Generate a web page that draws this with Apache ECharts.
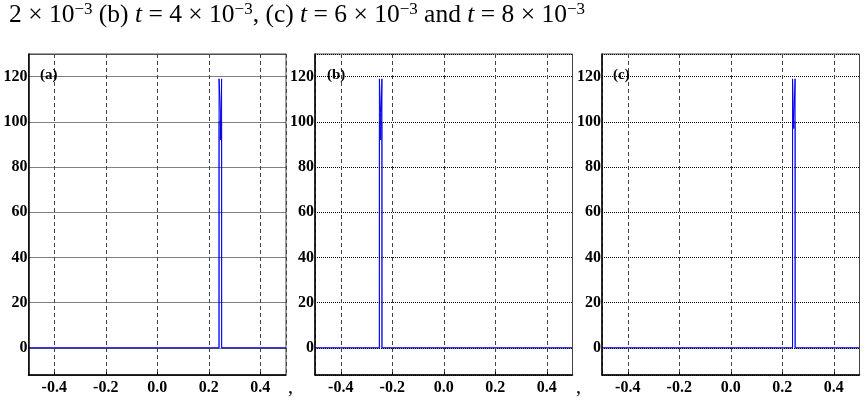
<!DOCTYPE html>
<html>
<head>
<meta charset="utf-8">
<script src="https://cdn.jsdelivr.net/npm/echarts@6/dist/echarts.min.js"></script>
<style>
  html, body { margin: 0; padding: 0; background: #fff; }
  #chart { width: 867px; height: 405px; }
</style>
</head>
<body>
<div id="chart"></div>
<script>
// panel labels
const panelNames = ['(a)', '(b)', '(c)']
const xTicks = [-0.4, -0.2, 0.0, 0.2, 0.4]
const yTicks = [0, 20, 40, 60, 80, 100, 120]

// exact pulse (height 100) per panel
const exactX = [
  [-0.5, 0.24, 0.24, 0.25, 0.25, 0.5],
  [-0.5, -0.25, -0.25, -0.24, -0.24, 0.5],
  [-0.5, 0.24, 0.24, 0.25, 0.25, 0.5]
]
const exactY = [0, 0, 100, 100, 0, 0]

// numerical solution with overshoot per panel
const numX = [
  [-0.5, 0.2399, 0.2401, 0.2448, 0.2452, 0.2499, 0.2501, 0.5],
  [-0.5, -0.2501, -0.2499, -0.2452, -0.2448, -0.2401, -0.2399, 0.5],
  [-0.5, 0.2399, 0.2401, 0.2448, 0.2452, 0.2499, 0.2501, 0.5]
]
const numY = [
  [0, 0, 119, 104, 92, 119, 0, 0],
  [0, 0, 119, 104, 92, 119, 0, 0],
  [0, 0, 119, 97, 101, 119, 0, 0]
]

const gridLefts = [28.5, 315, 602]
const gridWidth = 257.5

let chart = echarts.init(document.getElementById('chart'), null, {renderer: 'canvas'})

let grids = []
let xAxes = []
let yAxes = []
let series = []
let graphics = []

const font = 'Liberation Serif'

gridLefts.forEach((left, i) => {
  grids.push({
    left: left, width: gridWidth, top: 54, bottom: 30,
    show: true, borderColor: '#444', borderWidth: 1
  })
  xAxes.push({
    type: 'value', gridIndex: i, min: -0.5, max: 0.5, splitNumber: 5,
    axisLine: {onZero: false, lineStyle: {color: '#000', width: 1.5}},
    axisTick: {inside: true, length: 3, lineStyle: {color: '#000'}},
    axisLabel: {
      color: '#000', fontFamily: font, fontWeight: 'bold', fontSize: 16, margin: 5,
      showMinLabel: false, showMaxLabel: false,
      formatter: v => xTicks.some(t => Math.abs(t - v) < 1e-6) ? v.toFixed(1) : ''
    },
    splitLine: {show: true, lineStyle: {color: '#444', type: [4, 3], width: 1}}
  })
  yAxes.push({
    type: 'value', gridIndex: i, min: -12, max: 130, splitNumber: 7,
    axisLine: {show: true, onZero: false, lineStyle: {color: '#000', width: 1.5}},
    axisTick: {show: false},
    axisLabel: {
      color: '#000', fontFamily: font, fontWeight: 'bold', fontSize: 16, margin: 1,
      showMinLabel: false, showMaxLabel: false,
      formatter: v => yTicks.some(t => Math.abs(t - v) < 1e-6) ? String(Math.round(v)) : ''
    },
    splitLine: {show: true, lineStyle: {color: '#000', type: [1, 1], width: 1}}
  })
  series.push({
    type: 'line', xAxisIndex: i, yAxisIndex: i, symbol: 'none', z: -1,
    lineStyle: {color: '#5a5aff', width: 1},
    data: exactX[i].map((x, k) => [x, exactY[k]])
  })
  series.push({
    type: 'line', xAxisIndex: i, yAxisIndex: i, symbol: 'none', z: -1,
    lineStyle: {color: '#0000ee', width: 1},
    data: numX[i].map((x, k) => [x, numY[i][k]])
  })
})

// panel tags
const tagX = [49, 336, 622]
tagX.forEach((x, i) => {
  graphics.push({
    type: 'text', left: x - 9, top: 68, z: 10,
    style: {text: panelNames[i], fill: '#000', font: 'bold 15px "Liberation Serif"'}
  })
})
// commas between panels
graphics.push({type: 'text', left: 288, top: 378, style: {text: ',', fill: '#000', font: '20px "Liberation Serif"'}})
graphics.push({type: 'text', left: 576, top: 378, style: {text: ',', fill: '#000', font: '20px "Liberation Serif"'}})

const option = {
  animation: false,
  backgroundColor: '#fff',
  title: {
    left: 4, top: -4,
    text: '2 × 10{s|−3} (b) {i|t} = 4 × 10{s|−3}, (c) {i|t} = 6 × 10{s|−3} and {i|t} = 8 × 10{s|−3}',
    textStyle: {
      color: '#000', fontFamily: font, fontWeight: 'normal', fontSize: 25.5, lineHeight: 29,
      rich: {
        s: {fontSize: 17, verticalAlign: 'top', lineHeight: 29, color: '#000', fontFamily: font},
        i: {fontStyle: 'italic', fontSize: 25.5, color: '#000', fontFamily: font}
      }
    }
  },
  grid: grids,
  xAxis: xAxes,
  yAxis: yAxes,
  series: series,
  graphic: graphics
}

chart.setOption(option)
</script>
</body>
</html>
